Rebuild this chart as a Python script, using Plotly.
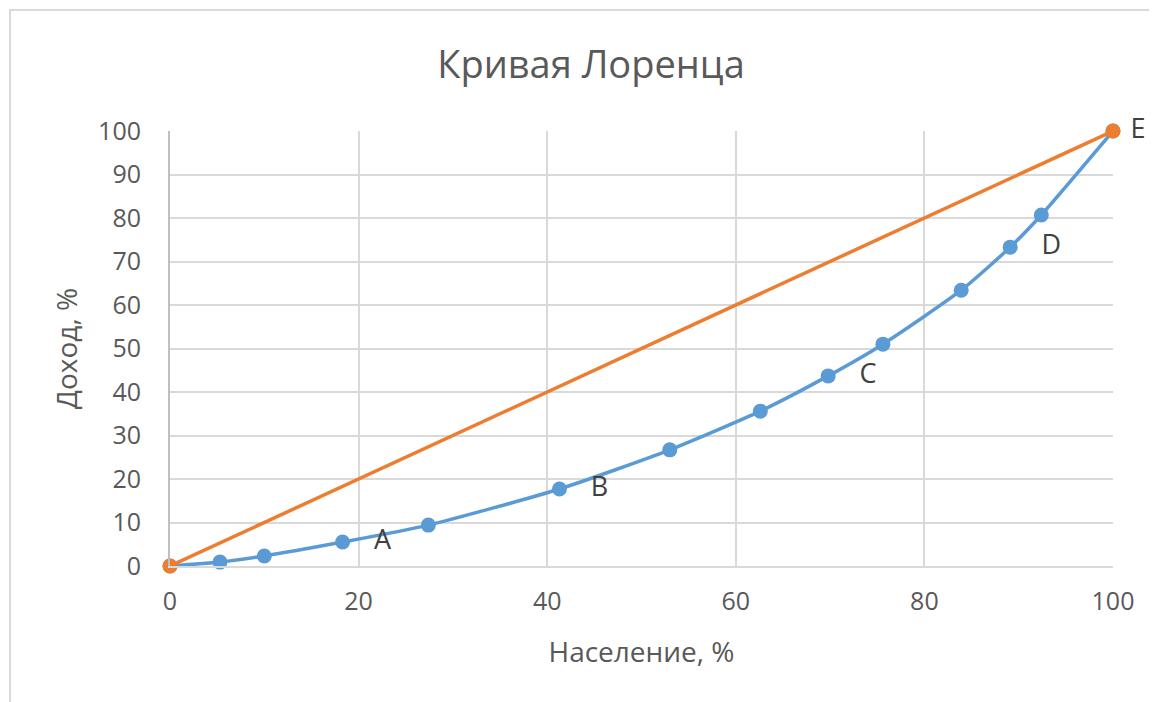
import plotly.graph_objects as go

# Data
population = [0, 5.3, 10.0, 18.3, 27.4, 41.3, 53.0, 62.6, 69.8, 75.6, 83.9, 89.1, 92.4, 100]
income = [0, 0.9, 2.3, 5.5, 9.4, 17.7, 26.7, 35.6, 43.7, 51.0, 63.4, 73.3, 80.7, 100]
lorenz_labels = ["", "", "", "A", "", "B", "", "", "C", "", "", "D", "", ""]

equality_x = [0, 100]
equality_y = [0, 100]
equality_labels = ["", "E"]

x_ticks = [0, 20, 40, 60, 80, 100]
y_ticks = [0, 10, 20, 30, 40, 50, 60, 70, 80, 90, 100]

BLUE = "#5B9BD5"
ORANGE = "#ED7D31"
TEXT = "#595959"
GRID = "#D9D9D9"
FONT = "Open Sans"

W, H = 1149, 694
L, T = 162, 123
PW, PH = 943, 435

fig = go.Figure()
fig.add_trace(go.Scatter(
    x=population, y=income, mode="lines+markers+text",
    text=["   " + s if s else "" for s in lorenz_labels], textposition="middle right",
    textfont=dict(family=FONT, size=27, color="#404040"),
    line=dict(color=BLUE, width=3.5, shape="spline", smoothing=0.6),
    marker=dict(color=BLUE, size=15), cliponaxis=False, showlegend=False,
))
fig.add_trace(go.Scatter(
    x=equality_x, y=equality_y, mode="lines+markers+text",
    text=[" " + s if s else "" for s in equality_labels], textposition="middle right",
    textfont=dict(family=FONT, size=27, color="#404040"),
    line=dict(color=ORANGE, width=3.5),
    marker=dict(color=ORANGE, size=15), cliponaxis=False, showlegend=False,
))

fig.update_layout(
    width=W, height=H,
    margin=dict(l=L, r=W - L - PW, t=T, b=H - T - PH),
    paper_bgcolor="white", plot_bgcolor="white",
    font=dict(family=FONT, color=TEXT),
    title=dict(text="Кривая Лоренца", x=(591 - 8) / W, xref="container", xanchor="center",
               y=1 - (65 - 8) / H, yref="container", yanchor="middle",
               font=dict(family=FONT, size=38, color=TEXT)),
    shapes=[dict(type="rect", xref="paper", yref="paper",
                 x0=(2 - L) / PW, x1=1.2, y0=-0.6, y1=(T + PH - 2) / PH,
                 line=dict(color="#D9D9D9", width=2), layer="below")],
)
fig.update_xaxes(
    range=[0, 100], tickvals=x_ticks, showgrid=True, gridcolor=GRID, gridwidth=2,
    zeroline=False, showline=True, linecolor=GRID, linewidth=2,
    ticks="outside", ticklen=12, tickcolor="rgba(0,0,0,0)",
    tickfont=dict(family=FONT, size=25, color=TEXT),
    title=dict(text="Население, %", font=dict(family=FONT, size=28, color=TEXT), standoff=26),
)
fig.update_yaxes(
    range=[0, 100], tickvals=y_ticks, showgrid=True, gridcolor=GRID, gridwidth=2,
    zeroline=False, showline=True, linecolor="#BFBFBF", linewidth=2,
    ticks="outside", ticklen=22, tickcolor="rgba(0,0,0,0)",
    tickfont=dict(family=FONT, size=25, color=TEXT),
    title=dict(text="Доход, %", font=dict(family=FONT, size=28, color=TEXT), standoff=12),
)

fig.write_html("out.html")
